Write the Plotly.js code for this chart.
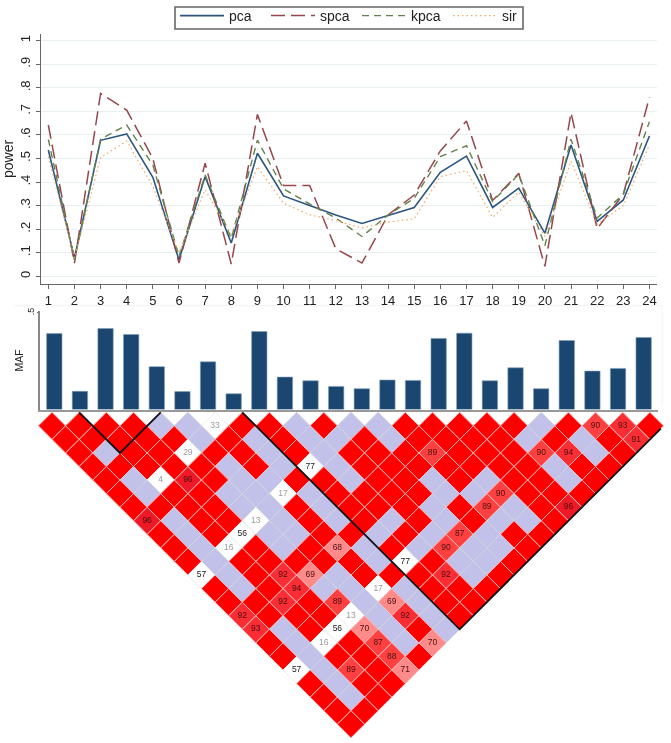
<!DOCTYPE html>
<html><head><meta charset="utf-8">
<script src="https://cdn.plot.ly/plotly-3.0.1.min.js"></script>
<style>html,body{margin:0;padding:0;background:#fff}#chart{width:671px;height:743px;filter:blur(0.35px)}</style>
</head><body><div id="chart"></div>
<script>
const snpIndex = [1,2,3,4,5,6,7,8,9,10,11,12,13,14,15,16,17,18,19,20,21,22,23,24];
const powerTicks = [0,.1,.2,.3,.4,.5,.6,.7,.8,.9,1];
const powerTickLabels = ['0','.1','.2','.3','.4','.5','.6','.7','.8','.9','1'];
const pca  = [.536,.078,.577,.604,.42,.07,.423,.141,.522,.341,.30,.26,.224,.257,.292,.441,.51,.292,.374,.183,.557,.233,.324,.595];
const spca = [.642,.056,.776,.705,.50,.056,.48,.052,.687,.385,.385,.117,.056,.26,.345,.532,.659,.322,.437,.042,.694,.202,.348,.759];
const kpca = [.581,.07,.582,.642,.472,.085,.43,.16,.578,.371,.307,.247,.169,.26,.331,.508,.554,.317,.433,.13,.582,.247,.348,.656];
const sir  = [.508,.078,.504,.574,.381,.099,.367,.176,.465,.31,.261,.236,.205,.23,.244,.423,.449,.25,.357,.169,.489,.221,.30,.557];
const maf  = [.393,.0945,.419,.388,.222,.093,.247,.082,.404,.168,.149,.12,.108,.153,.151,.368,.395,.149,.216,.108,.357,.199,.213,.373];

// LD triangle, one string list per depth. R = strong, L = uninformative, number = D' label (W prefix: white cell)
const ld0  = 'R R R R L L W33 R R L R L L R R R R R L R 90 93 R'.split(' ');
const ld1  = 'R R R R R L R L R L L R L R R R R L R L R 91'.split(' ');
const ld2  = 'R L R R W29 R R L R L R R R 89 R R R 90 94 L R'.split(' ');
const ld3  = 'R R R R R L R L W77 L R R R R R R R L R R'.split(' ');
const ld4  = 'R L W4 96 R L L R R L R R L R L R R L R'.split(' ');
const ld5  = 'R L R R L L W17 L R R R R L L 90 R R R'.split(' ');
const ld6  = 'R R R R L L R L R R R L R 89 L R 96'.split(' ');
const ld7  = '96 L R R W13 L R L R L R L R L L R'.split(' ');
const ld8  = 'R L R W56 L L R R L R L 87 L R R'.split(' ');
const ld9  = 'R L W16 R L R 68 L R L 90 L L R'.split(' ');
const ld10 = 'R L R R R R R L W77 R L L R'.split(' ');
const ld11 = 'W57 L R 92 69 L R R R 92 L R'.split(' ');
const ld12 = 'R L R 94 L L W17 L R R R'.split(' ');
const ld13 = 'R R 92 R 89 L 69 L R R'.split(' ');
const ld14 = '92 R R R W13 L 92 L R'.split(' ');
const ld15 = '93 L R W56 70 L R L'.split(' ');
const ld16 = 'R L W16 R 87 L 70'.split(' ');
const ld17 = 'R L R R 88 R'.split(' ');
const ld18 = 'W57 L 89 R 71'.split(' ');
const ld19 = 'R L R R'.split(' ');
const ld20 = 'R L R'.split(' ');
const ld21 = 'R R'.split(' ');
const ld22 = 'R'.split(' ');
const ldRows = [ld0,ld1,ld2,ld3,ld4,ld5,ld6,ld7,ld8,ld9,ld10,ld11,ld12,ld13,ld14,ld15,ld16,ld17,ld18,ld19,ld20,ld21,ld22];

// Haplotype block outlines in triangle units
const blockAX = [1,2.5,4],  blockAY = [-1,2,-1];
const blockBX = [7,15,22.4], blockBY = [-1,15,0.2];

const W = 671, H = 743;
const dx = p => p / W, dy = p => 1 - p / H;

function cellColor(v){
  if(v==='R') return '#ff0000';
  if(v==='L') return '#c1c1e9';
  if(v[0]==='W') return '#ffffff';
  const n=+v;
  if(n<75) return '#ff8a8a';
  if(n<=90) return '#ff4040';
  if(n<=94) return '#fa2c34';
  return '#ee1826';
}
function lineColor(v){
  if(v==='L') return '#d3d3e0';
  if(v[0]==='W') return '#ececec';
  return '#ffb4b4';
}
function labelColor(v){
  if(v[0]==='W'){ const n=+v.slice(1); return n<50?'#9a9a9a':'#222'; }
  return '#4a1010';
}
const cx=[],cy=[],cc=[],cl=[],ct=[],ctc=[];
ldRows.forEach((row,r)=>row.forEach((v,c)=>{
  cx.push(c+r/2); cy.push(r); cc.push(cellColor(v)); cl.push(lineColor(v));
  ct.push(v==='R'||v==='L'?'':v.replace('W','')); ctc.push(labelColor(v));
}));

const traces = [
 {x:snpIndex,y:pca,name:'pca',mode:'lines',line:{color:'#2c5680',width:1.6}},
 {x:snpIndex,y:spca,name:'spca',mode:'lines',line:{color:'#97464c',width:1.5,dash:'14px 6px'}},
 {x:snpIndex,y:kpca,name:'kpca',mode:'lines',line:{color:'#64824a',width:1.4,dash:'7px 5px'}},
 {x:snpIndex,y:sir,name:'sir',mode:'lines',line:{color:'#eea860',width:1.2,dash:'1.5px 3px'}},
 {x:snpIndex,y:maf,type:'bar',xaxis:'x2',yaxis:'y2',showlegend:false,width:0.6,
  marker:{color:'#1a4670',line:{color:'#7f9fbc',width:0.6}}},
 {x:cx,y:cy,xaxis:'x3',yaxis:'y3',mode:'markers+text',showlegend:false,cliponaxis:false,
  marker:{symbol:'diamond',size:20.9,color:cc,line:{color:cl,width:1}},
  text:ct,textposition:'middle center',textfont:{family:'Liberation Sans, Arial, sans-serif',size:8.5,color:ctc}},
 {x:blockAX,y:blockAY,xaxis:'x3',yaxis:'y3',mode:'lines',showlegend:false,cliponaxis:false,line:{color:'#111',width:1.8}},
 {x:blockBX,y:blockBY,xaxis:'x3',yaxis:'y3',mode:'lines',showlegend:false,cliponaxis:false,line:{color:'#111',width:1.8}}
];

const font = 'Liberation Sans, Arial, sans-serif';
const layout = {
 width:W,height:H,margin:{l:0,r:0,t:0,b:0},paper_bgcolor:'#fff',plot_bgcolor:'rgba(0,0,0,0)',
 font:{family:font,color:'#222'},hovermode:false,
 legend:{orientation:'h',x:dx(175),y:dy(-2),xanchor:'left',yanchor:'top',borderwidth:0,
   font:{size:14,color:'#222',family:font},itemwidth:44,entrywidth:32,entrywidthmode:'pixels',bgcolor:'rgba(0,0,0,0)',
   traceorder:'normal',tracegroupgap:0},
 xaxis:{domain:[dx(41),dx(657)],range:[0.72,24.29],tickvals:snpIndex,ticktext:snpIndex.map(String),
   showgrid:false,zeroline:false,showline:true,linecolor:'#666',linewidth:1.5,ticks:'outside',ticklen:4,tickcolor:'#666',
   tickfont:{size:13,color:'#222'},anchor:'y'},
 yaxis:{domain:[dy(282.7),dy(32)],range:[-0.0325,1.0285],tickvals:powerTicks,ticktext:powerTickLabels,tickangle:-90,
   showgrid:true,gridcolor:'#e8f0f2',gridwidth:1,zeroline:false,showline:true,linecolor:'#666',linewidth:1.5,ticks:'outside',ticklen:4,tickcolor:'#666',
   tickfont:{size:13,color:'#222'},title:{text:'power',font:{size:14,color:'#222'},standoff:4},anchor:'x'},
 xaxis2:{domain:[dx(39.7),dx(658)],range:[0.43,24.56],showticklabels:false,ticks:'',showgrid:false,zeroline:false,
   showline:true,linecolor:'#999',linewidth:2,anchor:'y2'},
 yaxis2:{domain:[dy(408.7),dy(310)],range:[0,0.5088],tickvals:[0.5],ticktext:['.5'],tickangle:-90,showgrid:false,zeroline:false,
   showline:true,linecolor:'#888',linewidth:1.5,ticks:'outside',ticklen:1,tickcolor:'#666',tickfont:{size:9,color:'#222'},
   title:{text:'MAF',font:{size:10.5,color:'#222'},standoff:0},anchor:'x2'},
 xaxis3:{domain:[0,1],range:[-1.913,22.775],visible:false,anchor:'y3',fixedrange:true},
 yaxis3:{domain:[0,dy(405)],range:[23.38,-1.47],visible:false,anchor:'x3',fixedrange:true},
 shapes:[
  {type:'line',xref:'paper',yref:'paper',x0:dx(14),x1:dx(662),y0:dy(304.5),y1:dy(304.5),line:{color:'#f2f2f2',width:1},layer:'below'},
  {type:'line',xref:'paper',yref:'paper',x0:dx(662),x1:dx(662),y0:dy(304.5),y1:dy(405),line:{color:'#f2f2f2',width:1},layer:'below'},
  {type:'rect',xref:'paper',yref:'paper',x0:dx(175),x1:dx(523),y0:dy(27),y1:dy(5),line:{color:'#666',width:1.6},layer:'above'}
 ]
};
Plotly.newPlot('chart',traces,layout,{displayModeBar:false,staticPlot:true});
</script></body></html>
